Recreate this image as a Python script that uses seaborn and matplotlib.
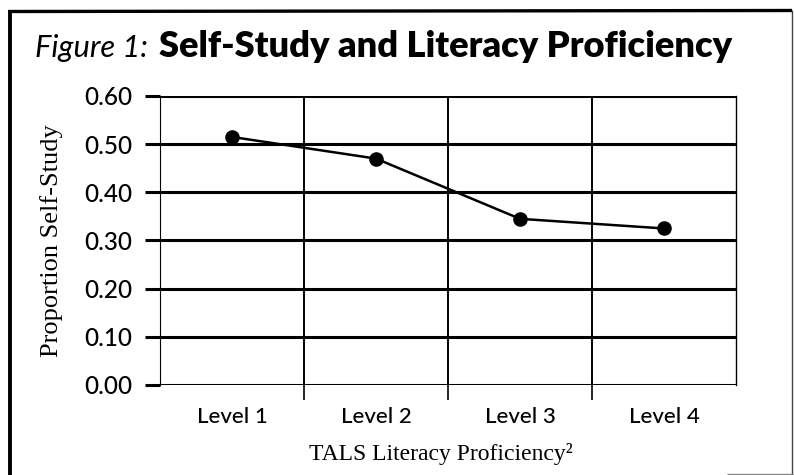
import matplotlib
matplotlib.use("Agg")
import matplotlib.pyplot as plt
from matplotlib.lines import Line2D
from matplotlib.ticker import FixedLocator
import pandas as pd
import seaborn as sns

# Data
levels = ["Level 1", "Level 2", "Level 3", "Level 4"]
proportion_self_study = [0.515, 0.47, 0.345, 0.325]
y_ticks = [0.00, 0.10, 0.20, 0.30, 0.40, 0.50, 0.60]
y_tick_labels = ["0.00", "0.10", "0.20", "0.30", "0.40", "0.50", "0.60"]

title_lead = "Figure 1:"
title_main = "Self-Study and Literacy Proficiency"
x_label = "TALS Literacy Proficiency\u00b2"
y_label = "Proportion Self-Study"

df = pd.DataFrame({"level": levels, "proportion": proportion_self_study})

sns.set_theme(style="white")
plt.rcParams["font.family"] = ["Lato", "DejaVu Sans"]
serif = ["Liberation Serif", "DejaVu Serif"]

W, H = 794, 475
fig = plt.figure(figsize=(W / 100, H / 100), dpi=100)
fig.patch.set_facecolor("white")

ax = fig.add_axes([160 / W, 1 - 385 / H, 576 / W, 289 / H])
ax.set_facecolor("white")
ax.set_axisbelow(True)

sns.lineplot(data=df, x="level", y="proportion", ax=ax, color="black",
             linewidth=1.8, marker="o", markersize=10.5, markeredgewidth=0,
             sort=False)

ax.set_xlim(-0.5, len(levels) - 0.5)
ax.set_ylim(y_ticks[0], y_ticks[-1])

# y axis: heavy rules at each tick, extending out past the axis
ax.set_yticks(y_ticks)
ax.set_yticklabels(y_tick_labels)
ax.yaxis.grid(True, color="black", linewidth=2.2)
ax.tick_params(axis="y", which="major", direction="out", length=10.8,
               width=2.2, color="black", pad=9, labelsize=17.5,
               labelcolor="black", left=True)
for lbl in ax.get_yticklabels():
    lbl.set_fontweight("medium")

# x axis: category labels centred, thin dividers between categories
ax.set_xticks(range(len(levels)))
ax.set_xticklabels(levels)
ax.xaxis.set_minor_locator(FixedLocator([i + 0.5 for i in range(len(levels) - 1)]))
ax.xaxis.grid(True, which="minor", color="black", linewidth=1.4)
ax.xaxis.grid(False, which="major")
ax.tick_params(axis="x", which="major", length=0, pad=16, labelsize=16,
               labelcolor="black")
ax.tick_params(axis="x", which="minor", direction="out", length=11,
               width=1.2, color="black", bottom=True)
for lbl in ax.get_xticklabels():
    lbl.set_fontweight("medium")

for side in ("top", "bottom"):
    ax.spines[side].set_visible(False)
ax.spines["left"].set_color("black")
ax.spines["left"].set_linewidth(0.8)
ax.spines["left"].set_linestyle((0, (2, 1)))
ax.spines["right"].set_color("black")
ax.spines["right"].set_linewidth(1.0)
ax.spines["right"].set_linestyle((0, (3, 1)))

ax.set_xlabel(x_label, family=serif, fontsize=17, color="black", va="top")
ax.xaxis.set_label_coords((441 - 160) / 576, (385 - 443) / 289)
ax.set_ylabel(y_label, family=serif, fontsize=19, color="black", va="center")
ax.yaxis.set_label_coords((52 - 160) / 576, 0.5)

# Title: italic lead-in followed by the bold heading, fitted to the frame width
title_x0, title_x1, title_base = 35, 733, 57
lead_ratio = 0.85
size = 24
t1 = fig.text(title_x0 / W, 1 - title_base / H, title_lead,
              fontsize=size * lead_ratio, fontstyle="italic",
              va="baseline", ha="left", color="black")
t2 = fig.text(0, 1 - title_base / H, title_main, fontsize=size,
              fontweight="heavy", va="baseline", ha="left", color="black")
renderer = fig.canvas.get_renderer()
for _ in range(4):
    w1 = t1.get_window_extent(renderer).width
    w2 = t2.get_window_extent(renderer).width
    gap = 0.3 * size * 100 / 72
    total = w1 + gap + w2
    size *= (title_x1 - title_x0) / total
    t1.set_fontsize(size * lead_ratio)
    t2.set_fontsize(size)
w1 = t1.get_window_extent(renderer).width
gap = 0.3 * size * 100 / 72
t2.set_x((title_x0 + w1 + gap) / W)

# Frame around the figure
def fig_line(x0, y0, x1, y1, lw, color="black"):
    fig.add_artist(Line2D([x0 / W, x1 / W], [1 - y0 / H, 1 - y1 / H],
                          transform=fig.transFigure, color=color,
                          linewidth=lw, solid_capstyle="butt"))

fig_line(9.5, 10, 9.5, H, 2.8)
fig_line(8, 11.5, 792, 10.5, 2.4)
fig_line(791.5, 10, 791.5, H, 1.0, "#444444")
fig_line(727, 474, W, 474, 1.0, "#888888")

fig.savefig("out.png", dpi=100, facecolor="white")
